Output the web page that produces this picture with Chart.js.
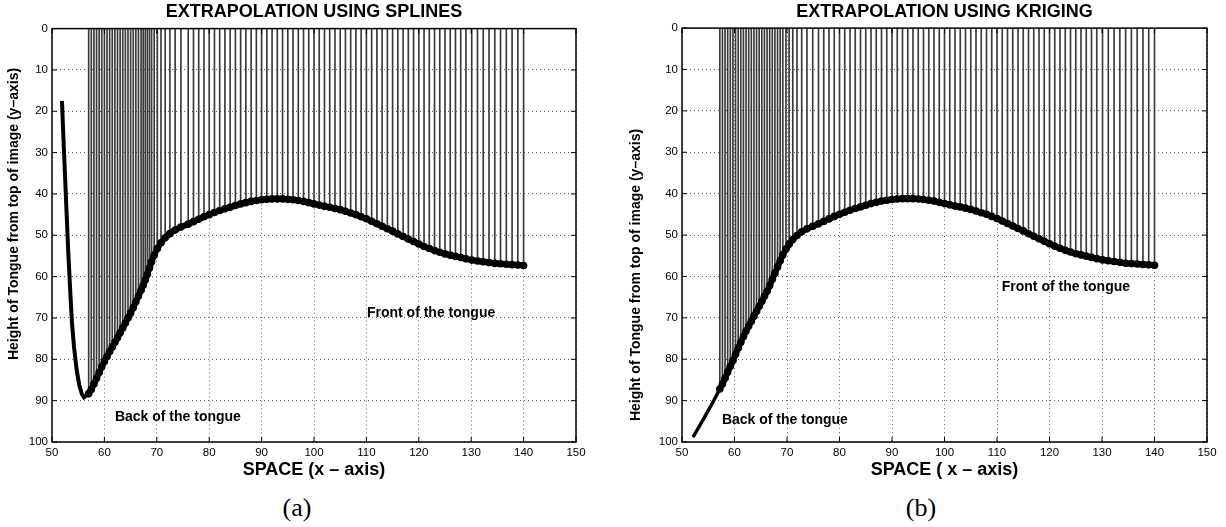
<!DOCTYPE html>
<html>
<head>
<meta charset="utf-8">
<script src="https://cdn.jsdelivr.net/npm/chart.js@4.4.1/dist/chart.umd.min.js"></script>
<style>
  html, body { margin: 0; padding: 0; background: #fff; }
  body { width: 1226px; height: 527px; position: relative; overflow: hidden; }
  .panel { position: absolute; top: 0; width: 613px; height: 490px; }
  .caption { position: absolute; top: 493px; width: 60px; line-height: 30px; text-align: center;
             font-family: 'Liberation Serif', serif; font-size: 26px; color: #000; }
</style>
</head>
<body>
<div class="panel" style="left:0"><canvas id="splineChart"></canvas></div>
<div class="panel" style="left:613px"><canvas id="krigingChart"></canvas></div>
<div class="caption" style="left:267px">(a)</div>
<div class="caption" style="left:891px">(b)</div>
<script>
// back part of the tongue, spline fit
const splineHeadX = [57.0, 57.5, 58.0, 58.5, 59.0, 59.5, 60.0, 60.5, 61.0, 61.5, 62.0, 62.5, 63.0, 63.5, 64.0,
  64.5, 65.0, 65.5, 66.0, 66.5, 67.0, 67.4, 67.8, 68.2, 68.6, 69.0, 69.5, 70.1, 70.8, 71.6, 72.5, 73.5, 74.6];
const splineHeadY = [88.3, 87.3, 86.0, 84.6, 83.2, 81.8, 80.5, 79.3, 78.1, 77.0, 75.9, 74.8, 73.6, 72.4, 71.2,
  70.0, 68.8, 67.5, 66.1, 64.7, 63.3, 62.1, 60.8, 59.4, 57.9, 56.4, 54.8, 53.2, 51.8, 50.6, 49.6, 48.7, 48.0];

// back part of the tongue, kriging fit
const krigingHeadX = [57.2, 57.7, 58.2, 58.7, 59.2, 59.7, 60.2, 60.7, 61.2, 61.7, 62.2, 62.7, 63.2, 63.7, 64.2,
  64.7, 65.2, 65.7, 66.2, 66.7, 67.2, 67.7, 68.2, 68.7, 69.2, 69.8, 70.4, 71.1, 71.9, 72.8, 73.8, 74.9];
const krigingHeadY = [87.2, 86.0, 84.6, 83.1, 81.7, 80.3, 78.8, 77.3, 75.9, 74.5, 73.2, 72.0, 70.8, 69.6, 68.4,
  67.2, 66.0, 64.8, 63.6, 62.2, 60.7, 59.2, 57.7, 56.2, 54.8, 53.4, 52.2, 51.1, 50.1, 49.2, 48.5, 47.9];

// rest of the tongue, same in both panels
const tailX = [76, 77, 78, 79, 80, 81, 82, 83, 84, 85, 86, 87, 88, 89, 90, 91, 92, 93, 94, 95, 96, 97, 98, 99,
  100, 101, 102, 103, 104, 105, 106, 107, 108, 109, 110, 111, 112, 113, 114, 115, 116, 117, 118, 119, 120,
  121, 122, 123, 124, 125, 126, 127, 128, 129, 130.1, 131.2, 132.3, 133.4, 134.5, 135.6, 136.7, 137.8, 138.9, 140.0];
const tailY = [47.3, 46.7, 46.1, 45.5, 45.0, 44.5, 44.0, 43.6, 43.2, 42.8, 42.4, 42.1, 41.8, 41.6, 41.4, 41.3,
  41.2, 41.2, 41.2, 41.3, 41.4, 41.6, 41.8, 42.1, 42.4, 42.7, 43.0, 43.2, 43.5, 43.8, 44.2, 44.6, 45.0, 45.5,
  46.0, 46.6, 47.2, 47.8, 48.4, 49.0, 49.7, 50.3, 50.9, 51.5, 52.1, 52.7, 53.2, 53.7, 54.1, 54.5, 54.8, 55.1,
  55.4, 55.7, 56.0, 56.2, 56.4, 56.6, 56.8, 56.9, 57.0, 57.1, 57.2, 57.3];

// extrapolated parts
const splineExtrapX = [51.9, 52.2, 52.5, 52.8, 53.1, 53.5, 53.8, 54.2, 54.7, 55.2, 55.7, 56.1, 57.0];
const splineExtrapY = [17.5, 27.0, 36.0, 45.0, 54.0, 64.0, 71.0, 77.0, 82.5, 86.2, 88.4, 89.2, 88.3];
const krigingExtrapX = [52.1, 53.4, 54.7, 56.0, 57.2];
const krigingExtrapY = [98.8, 96.0, 93.1, 90.1, 87.2];

const FONT = "'Liberation Sans', Arial, Helvetica, sans-serif";
Chart.defaults.font.family = FONT;
Chart.defaults.color = '#000';

function pts(xs, ys) {
    return xs.map((x, i) => ({ x: x, y: ys[i] }));
}

// box, inward ticks, text notes and the y title
const framePlugin = {
    id: 'frame',
    afterDatasetsDraw(chart, args, opts) {
        const { ctx, chartArea: a } = chart;
        const xs = chart.scales.x, ys = chart.scales.y;
        ctx.save();
        ctx.strokeStyle = '#000';
        ctx.lineWidth = 1;
        ctx.beginPath();
        xs.ticks.forEach(t => {
            const px = xs.getPixelForValue(t.value);
            ctx.moveTo(px, a.bottom); ctx.lineTo(px, a.bottom - 5);
            ctx.moveTo(px, a.top); ctx.lineTo(px, a.top + 5);
        });
        ys.ticks.forEach(t => {
            const py = ys.getPixelForValue(t.value);
            ctx.moveTo(a.left, py); ctx.lineTo(a.left + 5, py);
            ctx.moveTo(a.right, py); ctx.lineTo(a.right - 5, py);
        });
        ctx.stroke();
        ctx.lineWidth = 1.5;
        ctx.strokeRect(a.left, a.top, a.right - a.left, a.bottom - a.top);

        ctx.fillStyle = '#000';
        ctx.font = 'bold 14px ' + FONT;
        ctx.textBaseline = 'middle';
        ctx.textAlign = 'left';
        opts.notes.forEach(n => {
            ctx.fillText(n.text, xs.getPixelForValue(n.x), ys.getPixelForValue(n.y));
        });

        ctx.translate(opts.yTitle.cx, opts.yTitle.cy);
        ctx.rotate(-Math.PI / 2);
        ctx.textAlign = 'center';
        ctx.fillText(opts.yTitle.text, 0, 0);
        ctx.restore();
    }
};

function makeChart(id, p) {
    const curve = pts(p.curveX, p.curveY);
    const stems = curve.map(d => ({ x: d.x, y: [0, d.y] }));
    new Chart(document.getElementById(id), {
        type: 'line',
        data: {
            datasets: [
                {
                    data: curve,
                    borderColor: '#000',
                    borderWidth: 6,
                    pointRadius: 3.8,
                    pointBackgroundColor: '#000',
                    pointBorderWidth: 0,
                    tension: 0,
                    order: 1
                },
                {
                    data: pts(p.extrapX, p.extrapY),
                    borderColor: '#000',
                    borderWidth: p.extrapWidth,
                    pointRadius: 0,
                    tension: 0,
                    order: 2
                },
                {
                    type: 'bar',
                    data: stems,
                    backgroundColor: '#3a3a3a',
                    borderWidth: 0,
                    barThickness: 1,
                    order: 3
                }
            ]
        },
        options: {
            responsive: true,
            maintainAspectRatio: false,
            animation: false,
            layout: { padding: { left: 0, right: p.padRight, top: 0, bottom: 0 } },
            scales: {
                x: {
                    type: 'linear',
                    offset: false,
                    min: 50,
                    max: 150,
                    afterFit: s => { s.height = 48; },
                    ticks: { stepSize: 10, padding: 4, font: { size: 11.5 }, color: '#000' },
                    grid: { offset: false, color: '#666', lineWidth: 1, drawTicks: false },
                    border: { display: false, dash: [1, 3] },
                    title: {
                        display: true,
                        text: p.xTitle,
                        font: { size: 18, weight: 'bold' },
                        color: '#000',
                        padding: { top: 0, bottom: 9 }
                    }
                },
                y: {
                    reverse: true,
                    min: 0,
                    max: 100,
                    afterFit: s => { s.width = p.yWidth; },
                    ticks: { stepSize: 10, padding: 4, font: { size: 11.5 }, color: '#000' },
                    grid: { color: '#666', lineWidth: 1, drawTicks: false },
                    border: { display: false, dash: [1, 3] }
                }
            },
            plugins: {
                legend: { display: false },
                tooltip: { enabled: false },
                title: {
                    display: true,
                    text: p.title,
                    fullSize: false,
                    color: '#000',
                    font: { size: 18, weight: 'bold' },
                    padding: { top: 1, bottom: p.titleGap }
                },
                frame: {
                    notes: p.notes,
                    yTitle: { text: 'Height of Tongue from top of image (y\u2013axis)', cx: p.yTitleX, cy: p.yTitleY }
                }
            }
        },
        plugins: [framePlugin]
    });
}

makeChart('splineChart', {
    title: 'EXTRAPOLATION USING SPLINES',
    xTitle: 'SPACE (x \u2013 axis)',
    curveX: splineHeadX.concat(tailX),
    curveY: splineHeadY.concat(tailY),
    extrapX: splineExtrapX,
    extrapY: splineExtrapY,
    extrapWidth: 4,
    notes: [
        { text: 'Back of the tongue', x: 62.0, y: 94.0 },
        { text: 'Front of the tongue', x: 110.1, y: 68.8 }
    ],
    padRight: 37,
    yWidth: 52,
    titleGap: 6,
    yTitleX: 14,
    yTitleY: 214
});

makeChart('krigingChart', {
    title: 'EXTRAPOLATION USING KRIGING',
    xTitle: 'SPACE ( x \u2013 axis)',
    curveX: krigingHeadX.concat(tailX),
    curveY: krigingHeadY.concat(tailY),
    extrapX: krigingExtrapX,
    extrapY: krigingExtrapY,
    extrapWidth: 3.5,
    notes: [
        { text: 'Back of the tongue', x: 57.6, y: 94.7 },
        { text: 'Front of the tongue', x: 110.9, y: 62.6 }
    ],
    padRight: 19,
    yWidth: 69,
    titleGap: 5.5,
    yTitleX: 23,
    yTitleY: 275
});
</script>
</body>
</html>
